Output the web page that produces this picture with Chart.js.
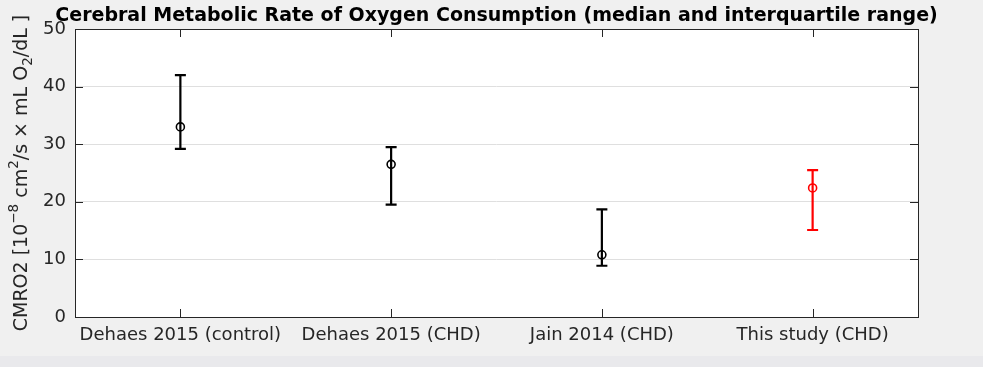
<!DOCTYPE html>
<html>
<head>
<meta charset="utf-8">
<script src="https://cdn.jsdelivr.net/npm/chart.js@4/dist/chart.umd.min.js"></script>
<style>
  html, body { margin: 0; padding: 0; background: #e9e9ec; }
  #wrap { width: 983px; height: 356px; background: #f0f0f0; position: relative; }
  canvas { display: block; }
</style>
</head>
<body>
<div id="wrap"><canvas id="c" width="983" height="356"></canvas></div>
<script>
const categories = ['Dehaes 2015 (control)', 'Dehaes 2015 (CHD)', 'Jain 2014 (CHD)', 'This study (CHD)'];
const medians = [33.0, 26.5, 10.8, 22.4];
const q1 = [29.2, 19.5, 8.9, 15.1];
const q3 = [42.0, 29.5, 18.7, 25.5];
const seriesColors = ['#000000', '#000000', '#000000', '#ff0000'];
const yTicks = [0, 10, 20, 30, 40, 50];
const titleText = 'Cerebral Metabolic Rate of Oxygen Consumption (median and interquartile range)';

const FONT = "'DejaVu Sans', sans-serif";
const TXT = '#262626';

const boxPlugin = {
  id: 'box',
  beforeDraw(chart) {
    const { ctx, chartArea: a } = chart;
    ctx.save();
    ctx.fillStyle = '#ffffff';
    ctx.fillRect(a.left, a.top, a.right - a.left, a.bottom - a.top);
    ctx.restore();
  },
  afterDatasetsDraw(chart) {
    const { ctx, chartArea: a, scales } = chart;
    ctx.save();
    ctx.strokeStyle = TXT;
    ctx.lineWidth = 1;
    ctx.strokeRect(Math.round(a.left) + 0.5, Math.round(a.top) + 0.5, Math.round(a.right - a.left), Math.round(a.bottom - a.top));
    ctx.beginPath();
    categories.forEach((c, i) => {
      const x = Math.round(scales.x.getPixelForValue(i)) + 0.5;
      ctx.moveTo(x, a.bottom); ctx.lineTo(x, a.bottom - 8);
      ctx.moveTo(x, a.top); ctx.lineTo(x, a.top + 8);
    });
    yTicks.forEach(v => {
      const y = Math.round(scales.y.getPixelForValue(v)) + 0.5;
      ctx.moveTo(a.left, y); ctx.lineTo(a.left + 8, y);
      ctx.moveTo(a.right, y); ctx.lineTo(a.right - 8, y);
    });
    ctx.stroke();
    ctx.restore();
  },
  afterDraw(chart) {
    const { ctx, chartArea: a } = chart;
    ctx.save();
    ctx.fillStyle = '#000000';
    ctx.font = 'bold 19px ' + FONT;
    ctx.textAlign = 'center';
    ctx.textBaseline = 'alphabetic';
    ctx.fillText(titleText, (a.left + a.right) / 2, 21);
    const parts = [
      ['CMRO2 [10', 0], ['\u22128', 1], [' cm', 0], ['2', 1], ['/s \u00d7 mL O', 0], ['2', -1], ['/dL ]', 0]
    ];
    const big = '19px ' + FONT, small = '13.5px ' + FONT;
    let total = 0;
    parts.forEach(p => { ctx.font = p[1] === 0 ? big : small; total += ctx.measureText(p[0]).width; });
    ctx.translate(27, (a.top + a.bottom) / 2);
    ctx.rotate(-Math.PI / 2);
    ctx.textAlign = 'left';
    ctx.fillStyle = TXT;
    let x = -total / 2;
    parts.forEach(p => {
      ctx.font = p[1] === 0 ? big : small;
      const dy = p[1] === 1 ? -9 : (p[1] === -1 ? 5 : 0);
      ctx.fillText(p[0], x, dy);
      x += ctx.measureText(p[0]).width;
    });
    ctx.restore();
  }
};

const errorBarPlugin = {
  id: 'errbars',
  beforeDatasetsDraw(chart) {
    const { ctx, scales } = chart;
    ctx.save();
    ctx.lineWidth = 2.2;
    categories.forEach((c, i) => {
      const x = scales.x.getPixelForValue(i);
      const yl = scales.y.getPixelForValue(q1[i]);
      const yh = scales.y.getPixelForValue(q3[i]);
      ctx.strokeStyle = seriesColors[i];
      ctx.beginPath();
      ctx.moveTo(x, yl); ctx.lineTo(x, yh);
      ctx.moveTo(x - 5.5, yl); ctx.lineTo(x + 5.5, yl);
      ctx.moveTo(x - 5.5, yh); ctx.lineTo(x + 5.5, yh);
      ctx.stroke();
    });
    ctx.restore();
  }
};

new Chart(document.getElementById('c'), {
  type: 'line',
  data: {
    labels: categories,
    datasets: [{
      data: medians,
      showLine: false,
      pointStyle: 'circle',
      pointRadius: 4,
      pointHoverRadius: 4,
      pointBorderWidth: 1.6,
      pointBackgroundColor: 'rgba(0,0,0,0)',
      pointBorderColor: seriesColors
    }]
  },
  options: {
    responsive: false,
    animation: false,
    layout: { padding: { left: 0, top: 29, right: 65, bottom: 0 } },
    plugins: { legend: { display: false }, tooltip: { enabled: false }, title: { display: false } },
    scales: {
      x: {
        offset: true,
        grid: { display: false, drawTicks: false },
        border: { display: false },
        ticks: { color: TXT, font: { family: FONT, size: 18 }, padding: 8, maxRotation: 0, autoSkip: false },
        afterFit(s) { s.height = 39; }
      },
      y: {
        min: 0, max: 50,
        afterBuildTicks(s) { s.ticks = yTicks.map(v => ({ value: v })); },
        grid: { color: '#dfdfdf', drawTicks: false, lineWidth: 1 },
        border: { display: false },
        ticks: { color: TXT, font: { family: FONT, size: 18 }, padding: 9 },
        afterFit(s) { s.width = 75; }
      }
    }
  },
  plugins: [boxPlugin, errorBarPlugin]
});
</script>
</body>
</html>
